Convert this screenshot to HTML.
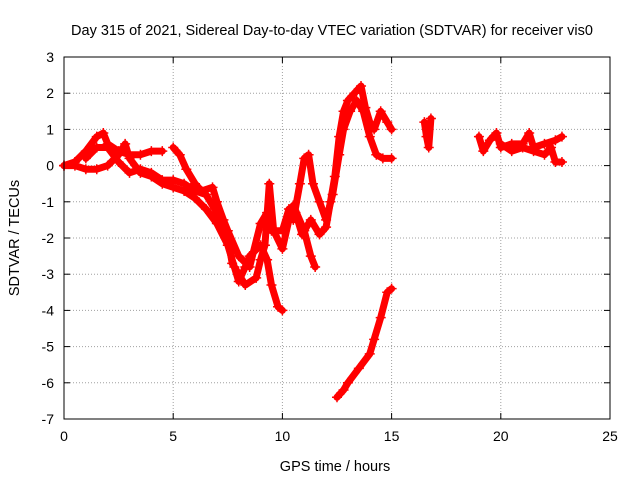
<!DOCTYPE html>
<html><head><meta charset="utf-8"><style>
body{margin:0;background:#fff}
svg{display:block;font-family:"Liberation Sans",sans-serif}
</style></head><body>
<svg id="chart" width="640" height="480" viewBox="0 0 640 480">
<text x="332" y="35" font-size="14.5" text-anchor="middle">Day 315 of 2021, Sidereal Day-to-day VTEC variation (SDTVAR) for receiver vis0</text>
<text x="335" y="471" font-size="14.5" text-anchor="middle">GPS time / hours</text>
<text x="19" y="238" font-size="14.5" text-anchor="middle" transform="rotate(-90 19 238)">SDTVAR / TECUs</text>
<g id="grid"></g><g id="ticks"></g><g id="series"></g>
<rect x="64" y="57" width="546" height="362" fill="none" stroke="#000" stroke-width="1"/>
</svg>
<script>
const xTicks=[0,5,10,15,20,25];
const yTicks=[3,2,1,0,-1,-2,-3,-4,-5,-6,-7];
const trackA_t=[0,0.5,1,1.5,1.8,2,2.5,3,3.5,4,4.5];
const trackA_v=[0,0.1,0.4,0.8,0.9,0.6,0.4,0.3,0.3,0.4,0.4];
const trackB_t=[0,0.5,1,1.5,2,2.5,2.8,3,3.5,4,4.5,5,5.5,6,6.5,7,7.5,7.8,8,8.3,8.5,9,9.3,9.5,9.8,10];
const trackB_v=[0,0,-0.1,-0.1,0,0.3,0.6,0.2,-0.2,-0.3,-0.5,-0.6,-0.7,-0.9,-1.2,-1.6,-2.2,-2.8,-3.2,-2.8,-2.5,-2.2,-2.6,-3.3,-3.9,-4];
const trackC_t=[1,1.5,2,2.5,3,3.5,4,4.5,5,5.5,6,6.5,7,7.5,7.7,8,8.3,8.8,9,9.2,9.4,9.6,10,10.3,10.5,11,11.3,11.5];
const trackC_v=[0.2,0.5,0.5,0.1,-0.2,-0.1,-0.2,-0.4,-0.4,-0.5,-0.7,-0.8,-1.3,-2,-2.7,-3,-3.3,-3.1,-2.6,-2.2,-0.5,-1.8,-2.3,-1.5,-1.1,-1.8,-2.5,-2.8];
const trackD_t=[5,5.3,5.6,6,6.3,6.8,7,7.3,7.5,8,8.5,9,9.3,9.5,10,10.3,10.6,10.9,11.3,11.7,12,12.2,12.4,12.6,12.8,13,13.3,13.6,13.8,14,14.2,14.5,14.8,15];
const trackD_v=[0.5,0.3,-0.1,-0.5,-0.7,-0.6,-1,-1.5,-1.8,-2.5,-2.8,-1.6,-1.3,-1.8,-1.8,-1.2,-1.3,-1.9,-1.5,-1.9,-1.7,-1,-0.3,0.8,1.5,1.8,2,2.2,1.6,1.2,1.0,1.5,1.2,1.0];
const trackE_t=[10.5,10.8,11,11.2,11.4,11.7,12,12.3,12.6,12.8,13.1,13.4,13.7,14,14.3,14.6,15];
const trackE_v=[-1.5,-0.5,0.2,0.3,-0.5,-1,-1.5,-0.8,0.3,1,1.5,1.8,1.5,0.8,0.3,0.2,0.2];
const trackF_t=[12.5,12.8,13,13.5,14,14.2,14.5,14.8,15];
const trackF_v=[-6.4,-6.2,-6,-5.6,-5.2,-4.8,-4.2,-3.5,-3.4];
const trackG_t=[16.5,16.6,16.7,16.8];
const trackG_v=[1.2,0.8,0.5,1.3];
const trackH_t=[19,19.2,19.5,19.8,20,20.5,21,21.3,21.5,22,22.5,22.8];
const trackH_v=[0.8,0.4,0.7,0.9,0.5,0.6,0.6,0.9,0.5,0.6,0.7,0.8];
const trackI_t=[20,20.5,21,21.5,22,22.3,22.5,22.8];
const trackI_v=[0.6,0.4,0.5,0.4,0.3,0.5,0.1,0.1];

const X0=64,X1=610,Y0=57,Y1=419;
const xs=t=>X0+(t-0)/(25-0)*(X1-X0);
const ys=v=>Y0+(3-v)/(3-(-7))*(Y1-Y0);
const NS="http://www.w3.org/2000/svg";
const grid=document.getElementById('grid'),ticks=document.getElementById('ticks'),ser=document.getElementById('series');
function mk(tag,attrs,parent){const e=document.createElementNS(NS,tag);for(const k in attrs)e.setAttribute(k,attrs[k]);parent.appendChild(e);return e;}
xTicks.forEach(t=>{const x=xs(t);
 if(t>0&&t<25){const g=mk('line',{x1:x,x2:x,y1:Y0,y2:Y1,stroke:'#a0a0a0','stroke-dasharray':'1,2'},grid);
 
 }
 mk('line',{x1:x,x2:x,y1:Y1,y2:Y1-6,stroke:'#000'},ticks);mk('line',{x1:x,x2:x,y1:Y0,y2:Y0+6,stroke:'#000'},ticks);
 const l=mk('text',{x:x,y:Y1+22,'font-size':14,'text-anchor':'middle'},ticks);l.textContent=t;
 
 });
yTicks.forEach(v=>{const y=ys(v);
 if(v<3&&v>-7){const g=mk('line',{x1:X0,x2:X1,y1:y,y2:y,stroke:'#a0a0a0','stroke-dasharray':'1,2'},grid);
 
 }
 mk('line',{x1:X0,x2:X0+6,y1:y,y2:y,stroke:'#000'},ticks);mk('line',{x1:X1,x2:X1-6,y1:y,y2:y,stroke:'#000'},ticks);
 const l=mk('text',{x:X0-10,y:y+5,'font-size':14,'text-anchor':'end'},ticks);l.textContent=v;
 
 });
const tracks=[[trackA_t,trackA_v],[trackB_t,trackB_v],[trackC_t,trackC_v],[trackD_t,trackD_v],[trackE_t,trackE_v],[trackF_t,trackF_v],[trackG_t,trackG_v],[trackH_t,trackH_v],[trackI_t,trackI_v]];
tracks.forEach(([T,V],i)=>{
 const g=mk('g',{},ser);
 
 
 const pts=T.map((t,j)=>xs(t)+','+ys(V[j])).join(' ');
 mk('polyline',{points:pts,fill:'none',stroke:'#ff0000','stroke-width':7,'stroke-linejoin':'round','stroke-linecap':'round'},g);
 T.forEach((t,j)=>{const x=xs(t),y=ys(V[j]);
  mk('path',{d:`M${x-5},${y}h10M${x},${y-5}v10`,stroke:'#ff0000','stroke-width':1.5},g);});
});
</script>
</body></html>
